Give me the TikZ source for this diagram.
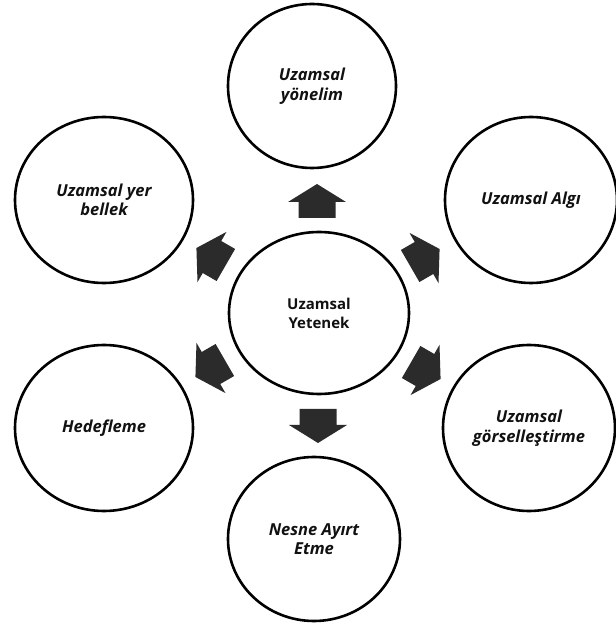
\documentclass[tikz,border=0pt]{standalone}
\usepackage{fontspec}
\setmainfont{Open Sans}
\usetikzlibrary{shapes.geometric}
\definecolor{arrowgray}{HTML}{2B2B2B}
\definecolor{inkblack}{HTML}{111111}
\begin{document}
\begin{tikzpicture}[x=1pt,y=1pt,
  bubble/.style={ellipse, draw=black, line width=2.6pt, fill=white,
    inner sep=0pt, align=center, text=inkblack,
    font=\bfseries\itshape\fontsize{16.5}{19.5}\selectfont},
  hub/.style={bubble, font=\bfseries\fontsize{15}{19}\selectfont},
  blockarrow/.pic={
    \fill[arrowgray] (-16,-18.5) -- (0,-18.5) -- (0,-29) -- (18,0)
      -- (0,29) -- (0,18.5) -- (-16,18.5) -- cycle;
  }
]
\useasboundingbox (0,0) rectangle (616,625);

% central ability
\node[hub, minimum width=180pt, minimum height=162pt] (core) at (319,312)
  {Uzamsal\\Yetenek};

% surrounding components
\node[bubble, minimum width=168pt, minimum height=164pt] (yon) at (312,539)
  {Uzamsal\\yönelim};
\node[bubble, minimum width=178pt, minimum height=166pt] (yer) at (104,425)
  {Uzamsal yer\\bellek};
\node[bubble, minimum width=172pt, minimum height=166pt] (algi) at (531,425)
  {Uzamsal Algı};
\node[bubble, minimum width=178pt, minimum height=166pt] (hedef) at (104,197)
  {Hedefleme};
\node[bubble, minimum width=172pt, minimum height=166pt] (gorsel) at (529,197)
  {Uzamsal\\görselleştirme};
\node[bubble, minimum width=172pt, minimum height=164pt] (nesne) at (314,86)
  {Nesne Ayırt\\Etme};

% block arrows radiating from the centre
\pic (toyon)    [rotate=90]  at (317,423) {blockarrow};
\pic (toyer)    [rotate=150] at (212,368) {blockarrow};
\pic (toalgi)   [rotate=30]  at (424,367) {blockarrow};
\pic (tohedef)  [rotate=210] at (211,257) {blockarrow};
\pic (togorsel) [rotate=330] at (425,255) {blockarrow};
\pic (tonesne)  [rotate=270] at (318,200) {blockarrow};
\end{tikzpicture}
\end{document}
